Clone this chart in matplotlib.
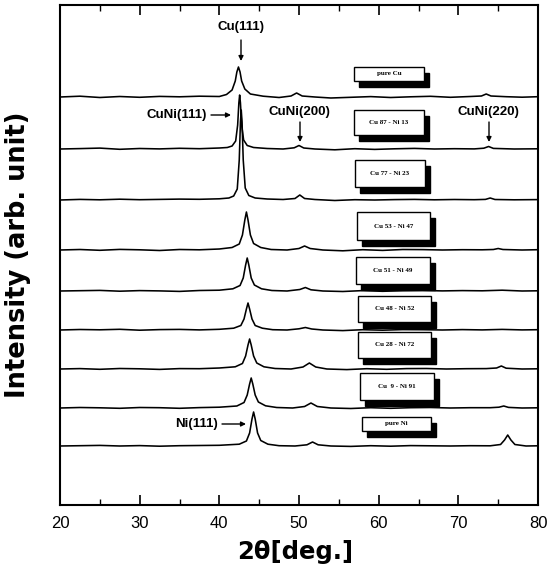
import matplotlib
matplotlib.use("Agg")
import matplotlib.pyplot as plt
from matplotlib.patches import Rectangle

plt.rcParams['font.family'] = ['Liberation Sans', 'DejaVu Sans']

# ---------------- data (2theta, relative intensity) ----------------
sample_labels = ["pure Cu", "Cu 87 - Ni 13", "Cu 77 - Ni 23", "Cu 53 - Ni 47",
                 "Cu 51 - Ni 49", "Cu 48 - Ni 52", "Cu 28 - Ni 72",
                 "Cu  9 - Ni 91", "pure Ni"]
offsets = [408, 356, 305, 255, 214, 175, 136, 97, 59]

pure_cu = [(20,0),(22.5,0.8),(25,-0.5),(27.5,0.5),(30,-0.3),(32.5,0.6),(35,0.2),(37.5,0.8),
           (40,0.5),(40.9,2.5),(41.6,7),(42.0,16),(42.2,25),(42.4,30),(42.6,25),(42.8,16),(43.2,8),(43.9,3),
           (45.5,0.8),(47.5,-0.5),(49.0,1),(49.7,4),(50.4,1),(52,0),(54,-1),(56.5,-0.3),(59,0.4),(61.5,-0.5),
           (64,0.2),(66.5,0.7),(69,-0.3),(71.5,0.5),(72.9,1),(73.5,3),(74.1,1),(76,0.3),(78,-0.2),(80,0.3)]
cu87_ni13 = [(20,0),(22.5,0.4),(25,0.9),(27.5,-0.3),(30,0.5),(32.5,0.1),(35,0.7),(37.5,0.3),(40,1),
             (41.0,1.5),(41.6,3),(42.05,8),(42.3,24),(42.45,46),(42.55,54),(42.65,46),(42.8,24),(43.05,9),
             (43.5,3.5),(44.3,1.5),(46,0.5),(48,0),(49.4,1.2),(50.0,3.5),(50.6,1),(52,0),(54.5,-0.8),(57,0.3),
             (59.5,-0.4),(62,0.2),(64.5,0.6),(67,0),(69.5,0.3),(72,0.1),(73.2,0.8),(73.8,2.5),(74.4,0.6),
             (77,0),(80,0.2)]
cu77_ni23 = [(20,0),(22.5,0.6),(25,0.2),(27.5,0.8),(30,0.3),(32.5,0.6),(35,0.9),(37.5,0.7),(40,1.2),
             (41.2,2),(41.8,4),(42.25,11),(42.5,40),(42.65,78),(42.75,90),(42.85,78),(43.0,40),(43.25,12),
             (43.7,4.5),(44.5,2),(46,1),(48,0.5),(49.5,1.5),(50.1,5),(50.7,1.5),(52,0.5),(54.5,-0.5),(57,0.3),
             (59.5,0),(62,0.4),(64.5,0.6),(67,0.2),(69.5,0.5),(72,0.3),(73.4,0.6),(74.0,2),(74.6,0.5),
             (77,0.2),(80,0.4)]
cu53_ni47 = [(20,0),(22.5,0.5),(25,-0.3),(27.5,0.6),(30,0.2),(32.5,-0.5),(35,0.5),(37.5,0.2),(40,1),
             (41.6,2.5),(42.5,6),(42.9,15),(43.2,30),(43.4,38),(43.6,30),(43.9,15),(44.3,6.5),(45.2,2.5),
             (46.5,0.5),(48.5,0),(50.0,1.5),(50.7,4),(51.4,1.5),(53,0),(55.5,-0.8),(58,0.3),(60.5,-0.4),
             (63,0.5),(65.5,0.4),(68,0),(70.5,0.3),(73,0.2),(74.4,0.5),(75.0,1.5),(75.6,0.5),(78,0),(80,0.3)]
cu51_ni49 = [(20,0),(22.5,0.3),(25,0.6),(27.5,-0.2),(30,0.4),(32.5,0.1),(35,-0.4),(37.5,0.5),(40,0.8),
             (41.7,2.2),(42.6,5.5),(43.0,13),(43.3,26),(43.5,33),(43.7,26),(44.0,13),(44.4,6),(45.3,2.2),
             (46.6,0.5),(48.5,0),(50.1,1.5),(50.8,3.5),(51.5,1.2),(53,0),(55.5,-0.5),(58,0.4),(60.5,-0.3),
             (63,0.3),(65.5,0.5),(68,0.1),(70.5,0.4),(73,0.2),(75.5,0.8),(78,0),(80,0.2)]
cu48_ni52 = [(20,0),(22.5,0.5),(25,0.2),(27.5,0.7),(30,-0.2),(32.5,0.4),(35,0.6),(37.5,0.1),(40,0.7),
             (41.8,1.8),(42.7,4.5),(43.1,11),(43.4,21),(43.6,27),(43.8,21),(44.1,11),(44.5,4.5),(45.4,1.8),
             (46.7,0.3),(48.5,0),(50.0,1.2),(50.8,2.5),(51.6,1),(53,0),(55.5,-0.6),(58,0.3),(60.5,-0.2),
             (63,0.4),(65.5,0.3),(68,0),(70.5,0.4),(73,0.1),(75.5,0.6),(78,0.1),(80,0.3)]
cu28_ni72 = [(20,0),(22.5,0.4),(25,-0.3),(27.5,0.5),(30,0.2),(32.5,-0.4),(35,0.4),(37.5,0.3),(40,1),
             (42.0,2.2),(42.9,5.5),(43.3,13),(43.6,24),(43.8,30),(44.0,24),(44.3,13),(44.7,6),(45.6,2.2),
             (47,0.5),(49,0),(50.5,2),(51.3,6),(52.1,2),(53.5,0),(56,-0.6),(58.5,0.3),(61,-0.3),(63.5,0.4),
             (66,0.5),(68.5,0),(71,0.3),(73.5,0.4),(74.8,1),(75.4,3),(76.0,0.8),(78,0),(80,0.2)]
cu9_ni91 = [(20,0),(22.5,0.5),(25,0.2),(27.5,-0.3),(30,0.5),(32.5,0.3),(35,-0.3),(37.5,0.4),(40,0.8),
            (42.2,2),(43.1,5.5),(43.5,13),(43.8,24),(44.0,30),(44.2,24),(44.5,13),(44.9,6),(45.8,2.2),
            (47.2,0.5),(49.2,0),(50.7,1.5),(51.5,5),(52.3,1.5),(54,0),(56.5,-0.5),(59,0.3),(61.5,-0.3),
            (64,0.3),(66.5,0.5),(69,0),(71.5,0.3),(74,0.3),(75.1,0.8),(75.7,2),(76.3,0.6),(78,0),(80,0.2)]
pure_ni = [(20,0),(22.5,0.3),(25,0.6),(27.5,0),(30,0.4),(32.5,-0.2),(35,0.3),(37.5,0.5),(40,0.7),
           (42.5,1.8),(43.4,5),(43.8,13),(44.1,27),(44.3,34),(44.5,27),(44.8,13),(45.2,5.5),(46.1,1.8),
           (47.5,0.3),(49.5,0),(51.0,1.2),(51.7,4),(52.4,1.2),(54,0),(56.5,-0.4),(59,0.3),(61.5,-0.2),
           (64,0.4),(66.5,0.2),(69,0),(71.5,0.3),(74,0.2),(75.3,1.5),(75.8,6),(76.2,11),(76.6,6),(77.1,1.5),
           (78.5,0),(80,0.2)]
traces = [pure_cu, cu87_ni13, cu77_ni23, cu53_ni47, cu51_ni49, cu48_ni52, cu28_ni72, cu9_ni91, pure_ni]

x_ticks = [20, 30, 40, 50, 60, 70, 80]

# ---------------- layout ----------------
W, H = 554, 571
X0, X1, YT, YB = 60, 538, 5, 505
fig = plt.figure(figsize=(W/100, H/100), dpi=100)
ax = fig.add_axes([X0/W, 1-YB/H, (X1-X0)/W, (YB-YT)/H])
ax.set_xlim(20, 80)
ax.set_ylim(0, YB-YT)

def P(px, py):
    return (20 + (px - X0) * 60.0 / (X1 - X0), YB - py)

for tr, off in zip(traces, offsets):
    xs = [p[0] for p in tr]
    ys = [p[1] + off for p in tr]
    ax.plot(xs, ys, color='black', lw=1.15)

# sample boxes with shadow (pixel layout)
box_px = [(354, 67, 424, 81), (354, 110, 424, 135), (355, 160, 425, 187), (357, 212, 430, 240),
          (356, 257, 430, 284), (358, 296, 431, 322), (358, 332, 431, 358), (360, 373, 434, 400),
          (362, 417, 431, 431)]
for (l, t, r, b), lab in zip(box_px, sample_labels):
    x0, y0 = P(l + 5, b + 6)
    x1, y1 = P(r + 5, t + 6)
    ax.add_patch(Rectangle((x0, y0), x1 - x0, y1 - y0, facecolor='black', edgecolor='black', zorder=3))
    x0, y0 = P(l, b)
    x1, y1 = P(r, t)
    ax.add_patch(Rectangle((x0, y0), x1 - x0, y1 - y0, facecolor='white', edgecolor='black', lw=1.0, zorder=4))
    cx, cy = P((l + r) / 2, (t + b) / 2)
    ax.text(cx, cy, lab, ha='center', va='center', fontsize=5, fontweight='bold',
            family='Liberation Serif', zorder=5)

# peak annotations
fs = 9.5
arr = dict(arrowstyle='-|>', color='black', lw=1.0, mutation_scale=7, shrinkA=0, shrinkB=0)
ax.text(*P(241, 27), "Cu(111)", ha='center', va='center', fontsize=fs, fontweight='bold')
ax.annotate("", xy=P(241, 61), xytext=P(241, 40), arrowprops=arr)
ax.text(*P(207, 115), "CuNi(111)", ha='right', va='center', fontsize=fs, fontweight='bold')
ax.annotate("", xy=P(231, 115), xytext=P(211, 115), arrowprops=arr)
ax.text(*P(299, 112), "CuNi(200)", ha='center', va='center', fontsize=fs, fontweight='bold')
ax.annotate("", xy=P(300, 142), xytext=P(300, 122), arrowprops=arr)
ax.text(*P(488, 112), "CuNi(220)", ha='center', va='center', fontsize=fs, fontweight='bold')
ax.annotate("", xy=P(489, 142), xytext=P(489, 122), arrowprops=arr)
ax.text(*P(218, 424), "Ni(111)", ha='right', va='center', fontsize=fs, fontweight='bold')
ax.annotate("", xy=P(246, 424), xytext=P(222, 424), arrowprops=arr)

# axes styling
ax.set_xticks(x_ticks)
ax.set_xticks([25, 35, 45, 55, 65, 75], minor=True)
ax.set_xticklabels([str(t) for t in x_ticks], fontsize=12)
ax.tick_params(axis='x', which='major', direction='in', top=True, length=7, width=1.2, pad=8)
ax.tick_params(axis='x', which='minor', direction='in', top=True, length=4, width=1.0)
ax.set_yticks([])
for s in ax.spines.values():
    s.set_linewidth(1.5)

fig.text(18/W, 1-255/H, "Intensity (arb. unit)", rotation=90, ha='center', va='center',
         fontsize=18.5, fontweight='bold', family='DejaVu Sans')
fig.text(295/W, 1-552/H, "2θ[deg.]", ha='center', va='center', fontsize=17.5, fontweight='bold',
         family='DejaVu Sans')

fig.savefig("out.png", dpi=100)
